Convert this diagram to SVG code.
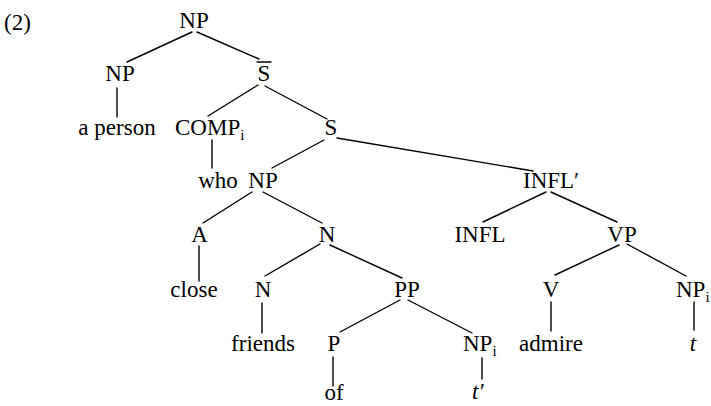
<svg xmlns="http://www.w3.org/2000/svg" width="711" height="406" viewBox="0 0 711 406" font-family="'Liberation Serif','Times New Roman',serif">
<style>
text{font-family:"Liberation Serif","Times New Roman",serif;font-size:23px;fill:#000}
.m{text-anchor:middle}
.sub{font-size:15px}
.it{font-style:italic}
#connectors line,.bar{stroke:#000;stroke-width:1.4;stroke-linecap:round}
</style>
<rect width="711" height="406" fill="#fff"/>
<text x="4" y="30">(2)</text>
<g id="connectors">
<line x1="192" y1="32" x2="127" y2="62"/>
<line x1="197" y1="32" x2="259" y2="59"/>
<line x1="117" y1="88" x2="117" y2="117"/>
<line x1="258" y1="85" x2="208" y2="116"/>
<line x1="265" y1="86" x2="327" y2="119"/>
<line x1="212" y1="140" x2="212" y2="168"/>
<line x1="324" y1="140" x2="272" y2="168"/>
<line x1="337" y1="138" x2="533" y2="171"/>
<line x1="252" y1="192" x2="203" y2="223"/>
<line x1="263" y1="192" x2="322" y2="223"/>
<line x1="546" y1="192" x2="483" y2="222"/>
<line x1="551" y1="192" x2="617" y2="222"/>
<line x1="199" y1="246" x2="199" y2="281"/>
<line x1="320" y1="244" x2="265" y2="276"/>
<line x1="330" y1="245" x2="402" y2="278"/>
<line x1="619" y1="245" x2="555" y2="275"/>
<line x1="627" y1="244" x2="686" y2="276"/>
<line x1="262" y1="303" x2="262" y2="333"/>
<line x1="400" y1="300" x2="340" y2="332"/>
<line x1="408" y1="300" x2="472" y2="333"/>
<line x1="551" y1="302" x2="551" y2="331"/>
<line x1="694" y1="302" x2="694" y2="330"/>
<line x1="333" y1="357" x2="333" y2="386"/>
<line x1="482" y1="358" x2="482" y2="379"/>
</g>
<g id="n-np-root"><text class="m" x="194" y="28">NP</text></g>
<g id="n-np-left"><text class="m" x="120" y="81">NP</text></g>
<g id="n-sbar"><text class="m" x="264" y="81">S</text><line class="bar" x1="257" y1="62" x2="271" y2="62"/></g>
<g id="n-aperson"><text class="m" x="117" y="135">a person</text></g>
<g id="n-comp"><text x="175" y="135">COMP<tspan class="sub" dy="5">i</tspan></text></g>
<g id="n-s"><text class="m" x="331" y="135">S</text></g>
<g id="n-who"><text class="m" x="218" y="188">who</text></g>
<g id="n-np-subj"><text class="m" x="263" y="188">NP</text></g>
<g id="n-inflbar"><text x="523" y="188">INFL′</text></g>
<g id="n-a"><text class="m" x="199.5" y="242">A</text></g>
<g id="n-n1"><text class="m" x="327" y="242">N</text></g>
<g id="n-infl"><text class="m" x="480" y="242">INFL</text></g>
<g id="n-vp"><text class="m" x="622" y="242">VP</text></g>
<g id="n-close"><text class="m" x="194" y="297">close</text></g>
<g id="n-n2"><text class="m" x="263" y="297">N</text></g>
<g id="n-pp"><text class="m" x="407" y="297">PP</text></g>
<g id="n-v"><text class="m" x="551" y="297">V</text></g>
<g id="n-np-obj"><text x="676" y="297">NP<tspan class="sub" dy="5">i</tspan></text></g>
<g id="n-friends"><text class="m" x="263" y="351">friends</text></g>
<g id="n-p"><text class="m" x="334" y="351">P</text></g>
<g id="n-np-pp"><text x="463" y="351">NP<tspan class="sub" dy="5">i</tspan></text></g>
<g id="n-admire"><text class="m" x="551" y="351">admire</text></g>
<g id="n-t"><text class="m it" x="693" y="351">t</text></g>
<g id="n-of"><text class="m" x="334" y="400">of</text></g>
<g id="n-tprime"><text class="it" x="472" y="399">t′</text></g>
</svg>
